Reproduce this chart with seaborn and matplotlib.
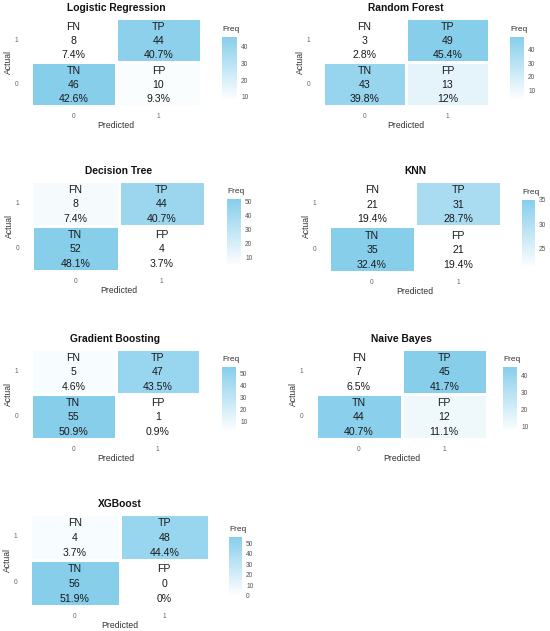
import numpy as np
import pandas as pd
import matplotlib
matplotlib.use("Agg")
import matplotlib.pyplot as plt
import seaborn as sns
from matplotlib.colors import LinearSegmentedColormap

sns.set_theme(style="white")
plt.rcParams['font.family'] = ['Liberation Sans', 'DejaVu Sans']

# ---- data ----
models = ["Logistic Regression", "Random Forest", "Decision Tree", "KNN",
          "Gradient Boosting", "Naive Bayes", "XGBoost"]
TN = [46, 43, 52, 35, 55, 44, 56]
FP = [10, 13, 4, 21, 1, 12, 0]
FN = [8, 3, 8, 21, 5, 7, 4]
TP = [44, 49, 44, 31, 47, 45, 48]
pct_TN = ["42.6%", "39.8%", "48.1%", "32.4%", "50.9%", "40.7%", "51.9%"]
pct_FP = ["9.3%", "12%", "3.7%", "19.4%", "0.9%", "11.1%", "0%"]
pct_FN = ["7.4%", "2.8%", "7.4%", "19.4%", "4.6%", "6.5%", "3.7%"]
pct_TP = ["40.7%", "45.4%", "40.7%", "28.7%", "43.5%", "41.7%", "44.4%"]
cbar_ticks = [[10, 20, 30, 40], [10, 20, 30, 40], [10, 20, 30, 40, 50],
              [25, 30, 35], [10, 20, 30, 40, 50], [10, 20, 30, 40],
              [0, 10, 20, 30, 40, 50]]
actual_labels = ["1", "0"]      # top to bottom
predicted_labels = ["0", "1"]

# ---- layout (pixels: tile x0, x1, y0, y1 ; colorbar x0, x1, y0, y1) ----
W, H = 550, 631
tile_px = [(31, 201, 18, 106), (323, 489, 18, 106),
           (32, 205, 181, 271), (329, 501, 181, 272),
           (31, 200, 349, 439), (316, 487, 349, 439),
           (30, 209, 514, 606)]
cbar_px = [(222, 237, 37, 100), (510, 524, 37, 100),
           (227, 241, 199, 266), (522, 535, 200, 268),
           (222, 236, 367, 432), (503, 517, 367, 432),
           (229, 242, 537, 596)]

cmap = LinearSegmentedColormap.from_list("wb", ["#FFFFFF", "#87CEEB"])

def rect(p):
    x0, x1, y0, y1 = p
    return [x0 / W, 1 - y1 / H, (x1 - x0) / W, (y1 - y0) / H]

fig = plt.figure(figsize=(W / 100, H / 100), dpi=100)

for k, name in enumerate(models):
    ax = fig.add_axes(rect(tile_px[k]))
    cax = fig.add_axes(rect(cbar_px[k]))
    mat = pd.DataFrame([[FN[k], TP[k]], [TN[k], FP[k]]],
                       index=actual_labels, columns=predicted_labels)
    labels = [[("FN", FN[k], pct_FN[k]), ("TP", TP[k], pct_TP[k])],
              [("TN", TN[k], pct_TN[k]), ("FP", FP[k], pct_FP[k])]]
    vals = mat.values
    sns.heatmap(mat, ax=ax, cmap=cmap, vmin=vals.min(), vmax=vals.max(),
                cbar_ax=cax, linewidths=1, linecolor="white",
                cbar_kws={"ticks": cbar_ticks[k]})
    for i in range(2):
        for j in range(2):
            lab, v, p = labels[i][j]
            for off, s in zip([-0.30, 0.02, 0.34], [lab, str(v), p]):
                ax.text(j + 0.5, i + 0.5 + off, s, ha="center", va="center",
                        fontsize=7.6, color="#1a1a1a")
    ax.set_title(name, fontsize=7.4, fontweight="bold", pad=5, color="#111111")
    ax.set_xlabel("Predicted", fontsize=6.2, color="#333333", labelpad=0.8)
    ax.set_ylabel("Actual", fontsize=6.2, color="#333333", labelpad=1.5)
    ax.tick_params(axis="x", length=0, labelsize=4.8, colors="#666666", pad=5)
    ax.tick_params(axis="y", length=0, labelsize=4.8, colors="#666666", pad=9)
    plt.setp(ax.get_yticklabels(), rotation=0)
    for s in ax.spines.values():
        s.set_visible(False)
    cb = ax.collections[0].colorbar
    cb.outline.set_visible(False)
    cax.tick_params(length=0, labelsize=4.8, colors="#555555", pad=3)
    cax.set_title("Freq", fontsize=6, color="#333333", loc="left", pad=4)

fig.savefig("out.png", dpi=100, facecolor="white")
